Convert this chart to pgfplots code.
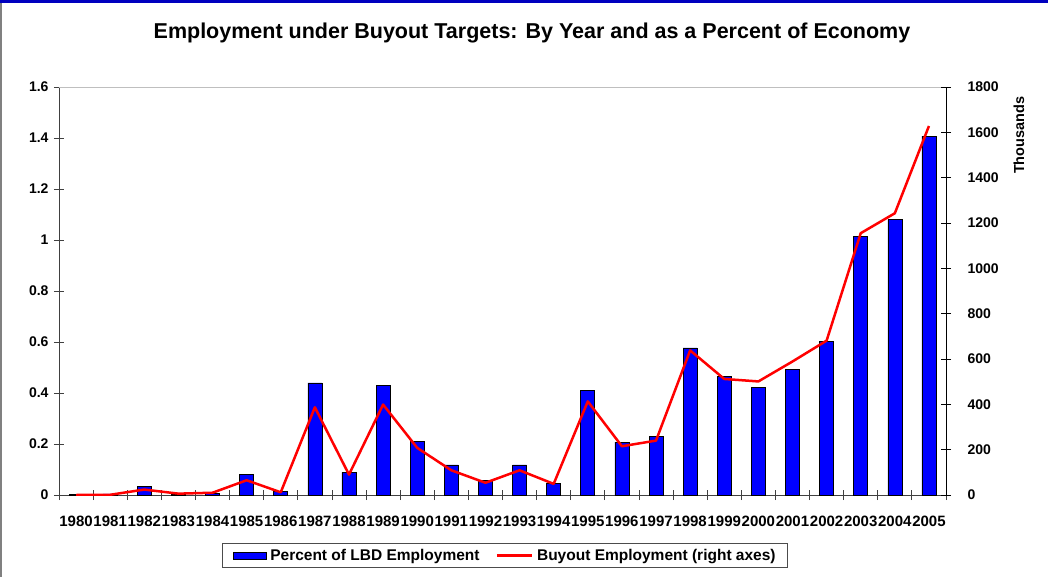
\documentclass[border=0pt]{standalone}
\usepackage{fontspec}
\setmainfont{Liberation Sans}
\usepackage{pgfplots}
\pgfplotsset{compat=1.18}
\usepackage{pgfplotstable}

% employment under buyout targets
\pgfplotstableread{
x year pct emp
0  1980 0.003 0
1  1981 0.004 1
2  1982 0.034 24
3  1983 0.002 6
4  1984 0.005 10
5  1985 0.080 65
6  1986 0.015 12
7  1987 0.440 387
8  1988 0.089 90
9  1989 0.431 399
10 1990 0.211 208
11 1991 0.118 109
12 1992 0.057 54
13 1993 0.118 109
14 1994 0.045 49
15 1995 0.411 413
16 1996 0.207 215
17 1997 0.231 240
18 1998 0.577 638
19 1999 0.466 512
20 2000 0.423 501
21 2001 0.492 589
22 2002 0.603 681
23 2003 1.015 1155
24 2004 1.080 1243
25 2005 1.407 1628
}\lbd

\newcommand{\fs}[1]{\bfseries\fontsize{#1}{#1}\selectfont}

\pgfplotsset{
  common/.style={
    scale only axis, width=887pt, height=408pt,
    at={(59pt,-495pt)}, anchor=south west,
    xmin=-0.5, xmax=25.5,
    tick align=center, major tick length=10pt,
    /pgf/number format/assume math mode=true,
    /pgf/number format/1000 sep={},
    tick label style={font=\fs{14}},
  },
  barleg/.style={legend image code/.code={\draw[##1] (0pt,-3.5pt) rectangle (33pt,3.5pt);}},
  lineleg/.style={legend image code/.code={\draw[##1] (0pt,0pt) -- (35pt,0pt);}},
}

\begin{document}
\begin{tikzpicture}
\path[fill=white] (0pt,0pt) rectangle (1048pt,-577pt);
\fill[blue!75!black] (0pt,0pt) rectangle (1048pt,-3pt);
\fill[gray] (0pt,-3pt) rectangle (2pt,-577pt);
\node[font=\fs{21.5}] at (532pt,-33pt)
  {Employment under Buyout Targets: By Year and as a Percent of Economy};
\node[font=\fs{14.5}, rotate=90, anchor=east] at (1019pt,-93pt) {Thousands};

\begin{axis}[common,
  ymin=0, ymax=1.6,
  ytick={0,0.2,...,1.6},
  yticklabels={0,0.2,0.4,0.6,0.8,1,1.2,1.4,1.6},
  xtick=data, xticklabels from table={\lbd}{year},
  major x tick style={draw=none},
  minor xtick={-0.5,0.5,...,25.5},
  minor tick length=10pt,
  axis x line*=bottom, axis y line*=left,
  axis line style={black!75, line width=0.8pt},
  every tick/.style={black!75, line width=0.8pt},
  xticklabel style={yshift=-12pt, font=\fs{15}, inner xsep=0pt},
  yticklabel style={xshift=-2pt},
  clip=false,
]
\draw[gray!50, line width=0.8pt] (rel axis cs:0,1) -- (rel axis cs:1,1);
\addplot[ybar, bar width=14pt, fill=blue, draw=black, line width=0.6pt]
  table[x=x, y=pct] {\lbd};
\end{axis}

\begin{axis}[common,
  ymin=0, ymax=1800,
  ytick={0,200,...,1800},
  axis x line=none, axis y line*=right,
  axis line style={black, line width=0.8pt},
  every tick/.style={black, line width=0.8pt},
  yticklabel style={xshift=13pt, anchor=west},
  legend columns=2,
  legend style={at={(0.503,-0.148)}, anchor=center,
    draw=black!70, line width=1pt, font=\fs{15.5},
    inner xsep=10pt, inner ysep=4pt,
    /tikz/every odd column/.append style={column sep=2pt},
    /tikz/every even column/.append style={column sep=14pt}},
]
\addlegendimage{fill=blue, draw=black, line width=0.6pt, barleg}
\addlegendentry{Percent of LBD Employment}
\addplot[red, line width=2.5pt, line join=round, lineleg]
  table[x=x, y=emp] {\lbd};
\addlegendentry{Buyout Employment (right axes)}
\end{axis}
\end{tikzpicture}
\end{document}
